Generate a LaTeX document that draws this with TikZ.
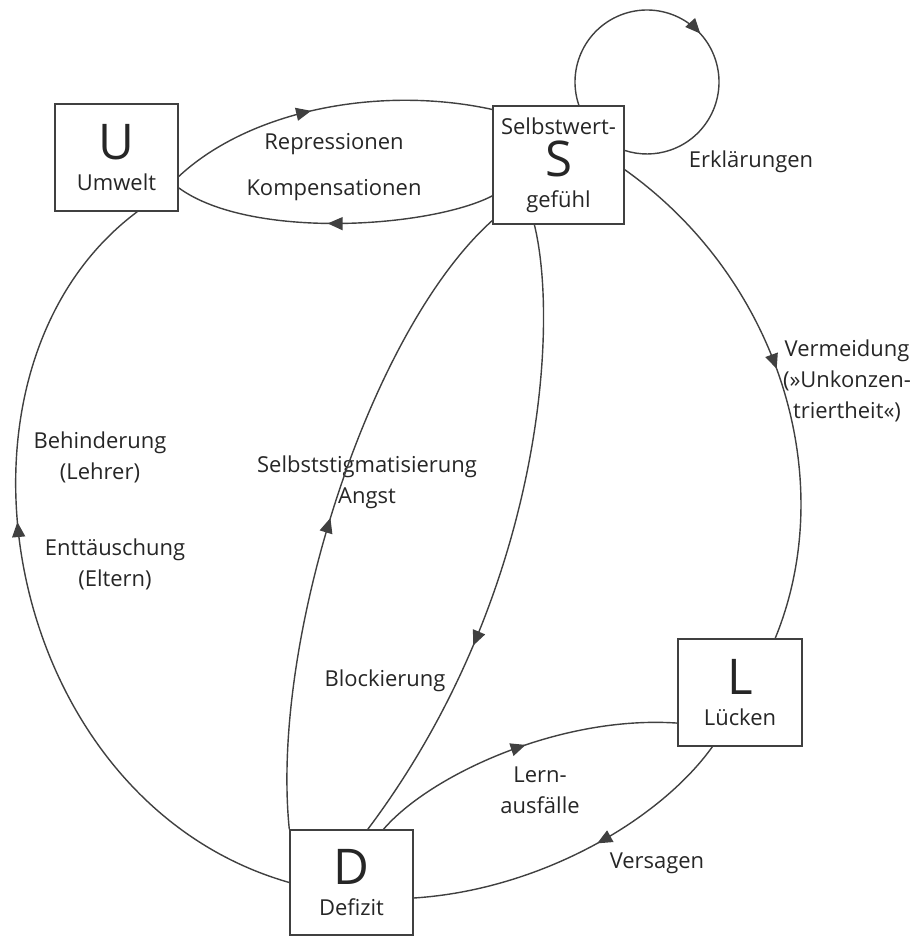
\documentclass[tikz,border=0pt]{standalone}
\usepackage{fontspec}
\setmainfont{Open Sans}
\usetikzlibrary{arrows.meta, decorations.markings}
\newcommand{\labfont}{\fontsize{12.5}{17.6}\selectfont}
\newcommand{\bigletter}[1]{{\fontsize{28}{30}\selectfont #1}}

\begin{document}
\begin{tikzpicture}[
    x=0.02cm, y=-0.02cm,
    box/.style={
      draw=black!75, line width=0.8pt, fill=white, align=center,
      minimum width=2.46cm, minimum height=2.14cm, inner sep=0pt,
      font=\labfont, text=black!85
    },
    lab/.style={align=center, inner sep=0pt, font=\labfont, text=black!85},
    flow/.style={
      draw=black!75, line width=0.8pt, postaction={decorate},
      decoration={markings,
        mark=at position #1 with {\arrow{Triangle[length=3mm, width=2.6mm]}}}
    },
  ]
    \useasboundingbox (0,0) rectangle (914,936);
    \node[box] (U) at (116.5,157.5) {\bigletter{U}\\Umwelt};
    \node[box, minimum width=2.62cm, minimum height=2.36cm] (S) at (558.5,165)
      {Selbstwert-\\[2.6pt]\bigletter{S}\\gefühl};
    \node[box, minimum width=2.48cm] (L) at (740,692.5) {\bigletter{L}\\Lücken};
    \node[box, minimum height=2.1cm] (D) at (351.5,882.5) {\bigletter{D}\\Defizit};
    \coordinate (loop) at (647,82);

    \node[lab] (rep) at (334,144) {Repressionen};
    \node[lab] (komp) at (334,190) {Kompensationen};
    \node[lab] (erkl) at (751,162) {Erklärungen};
    \node[lab] (verm) at (847,381) {Vermeidung\\(»Unkonzen-\\triertheit«)};
    \node[lab] (behin) at (100,457) {Behinderung\\(Lehrer)};
    \node[lab] (entt) at (115,564) {Enttäuschung\\(Eltern)};
    \node[lab] (stig) at (367,482) {Selbststigmatisierung\\Angst};
    \node[lab] (block) at (385,681) {Blockierung};
    \node[lab] (lern) at (540,790) {Lern-\\ausfälle};
    \node[lab] (vers) at (657,863) {Versagen};

    \draw[flow=0.45] (U.-17) .. controls (250,110) and (380,85) .. (S.140);
    \draw[flow=0.52] (S.205) .. controls (430,228) and (250,240) .. (U.-26);
    \draw[flow=0.51] ([shift={(198.9:1.44cm)}]loop)
      arc[start angle=198.9, end angle=-108.2, radius=1.44cm];
    \draw[flow=0.48] (S.-4) .. controls (780,280) and (840,480) .. (L.57);
    \draw[flow=0.58] (D.west) .. controls (0,800) and (-75,370) .. (U.-69);
    \draw[flow=0.48] (D.north west) .. controls (270,640) and (370,330) .. (S.220);
    \draw[flow=0.67] (S.248) .. controls (560,330) and (540,600) .. (D.73);
    \draw[flow=0.52] (D.59) .. controls (430,775) and (560,715) .. (L.206);
    \draw[flow=0.44] (L.243) .. controls (660,820) and (540,890) .. (D.-14);
  \end{tikzpicture}
\end{document}
